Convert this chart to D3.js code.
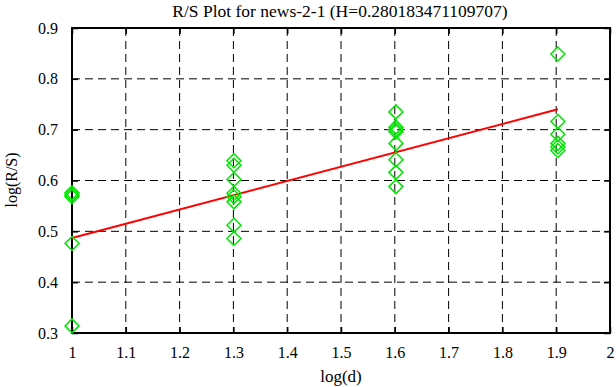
<!DOCTYPE html>
<html>
<head>
<script src="https://cdn.jsdelivr.net/npm/d3@7"></script>
<style>
  body { margin: 0; background: #fff; }
  text { font-family: "Liberation Serif", "Times New Roman", serif; fill: #000; }
</style>
</head>
<body>
<div id="chart"></div>
<script>
// log(d) for d = 10, 20, 40, 80
const logD = [1, 1.30103, 1.60206, 1.90309];
// log(R/S) values for each block
const rs10 = [0.576, 0.572, 0.568, 0.476, 0.314];
const rs20 = [0.639, 0.630, 0.602, 0.575, 0.568, 0.558, 0.512, 0.486];
const rs40 = [0.735, 0.705, 0.700, 0.696, 0.673, 0.641, 0.616, 0.588];
const rs80 = [0.849, 0.716, 0.691, 0.673, 0.666, 0.659];
const hurst = 0.280183471109707;
const intercept = 0.2068;
const xTicks = [1, 1.1, 1.2, 1.3, 1.4, 1.5, 1.6, 1.7, 1.8, 1.9, 2];
const yTicks = [0.3, 0.4, 0.5, 0.6, 0.7, 0.8, 0.9];

const points = [];
[rs10, rs20, rs40, rs80].forEach((vals, i) => {
  vals.forEach(v => points.push({ x: logD[i], y: v }));
});
const fit = [logD[0], logD[3]].map(x => ({ x: x, y: intercept + hurst * x }));

const W = 616, H = 387;
const margin = { top: 28, right: 6, bottom: 54, left: 72 };
const w = W - margin.left - margin.right;
const h = H - margin.top - margin.bottom;

const svg = d3.select("#chart").append("svg")
  .attr("width", W).attr("height", H);
const g = svg.append("g").attr("transform", `translate(${margin.left},${margin.top})`);

const x = d3.scaleLinear().domain([1, 2]).range([0, w]);
const y = d3.scaleLinear().domain([0.3, 0.9]).range([h, 0]);

// grid
g.selectAll(".gx").data(xTicks.slice(1, -1)).enter().append("line")
  .attr("x1", d => x(d)).attr("x2", d => x(d)).attr("y1", 0).attr("y2", h)
  .attr("stroke", "#000").attr("stroke-width", 1).attr("stroke-dasharray", "8,5");
g.selectAll(".gy").data(yTicks.slice(1, -1)).enter().append("line")
  .attr("x1", 0).attr("x2", w).attr("y1", d => y(d)).attr("y2", d => y(d))
  .attr("stroke", "#000").attr("stroke-width", 1).attr("stroke-dasharray", "8,5");

// axes with inward ticks, mirrored
const fmt = d3.format("");
g.append("g").attr("transform", `translate(0,${h})`)
  .call(d3.axisBottom(x).tickValues(xTicks).tickSize(-6).tickPadding(14).tickFormat(fmt));
g.append("g")
  .call(d3.axisTop(x).tickValues(xTicks).tickSize(-6).tickFormat(""));
g.append("g")
  .call(d3.axisLeft(y).tickValues(yTicks).tickSize(-6).tickPadding(14).tickFormat(fmt));
g.append("g").attr("transform", `translate(${w},0)`)
  .call(d3.axisRight(y).tickValues(yTicks).tickSize(-6).tickFormat(""));
g.selectAll(".domain").remove();
g.selectAll(".tick line").attr("stroke", "#000").attr("stroke-width", 1.5);
g.selectAll(".tick text").style("font-size", "16px").style("font-family", "Liberation Serif, serif");

g.append("rect").attr("width", w).attr("height", h)
  .attr("fill", "none").attr("stroke", "#000").attr("stroke-width", 2);

// fit line
g.append("path").datum(fit)
  .attr("d", d3.line().x(d => x(d.x)).y(d => y(d.y)))
  .attr("stroke", "#ff0000").attr("stroke-width", 2).attr("fill", "none");

// diamonds
g.selectAll(".pt").data(points).enter().append("path")
  .attr("transform", d => `translate(${x(d.x)},${y(d.y)})`)
  .attr("d", "M0,-7L7,0L0,7L-7,0Z")
  .attr("fill", "none").attr("stroke", "#00e600").attr("stroke-width", 1.5);

// labels
svg.append("text").attr("x", 340).attr("y", 17).attr("text-anchor", "middle")
  .style("font-size", "17.5px").text("R/S Plot for news-2-1 (H=0.280183471109707)");
svg.append("text").attr("x", 341).attr("y", 382).attr("text-anchor", "middle")
  .style("font-size", "17px").text("log(d)");
svg.append("text").attr("transform", "translate(17,180) rotate(-90)").attr("text-anchor", "middle")
  .style("font-size", "16px").text("log(R/S)");
</script>
</body>
</html>
